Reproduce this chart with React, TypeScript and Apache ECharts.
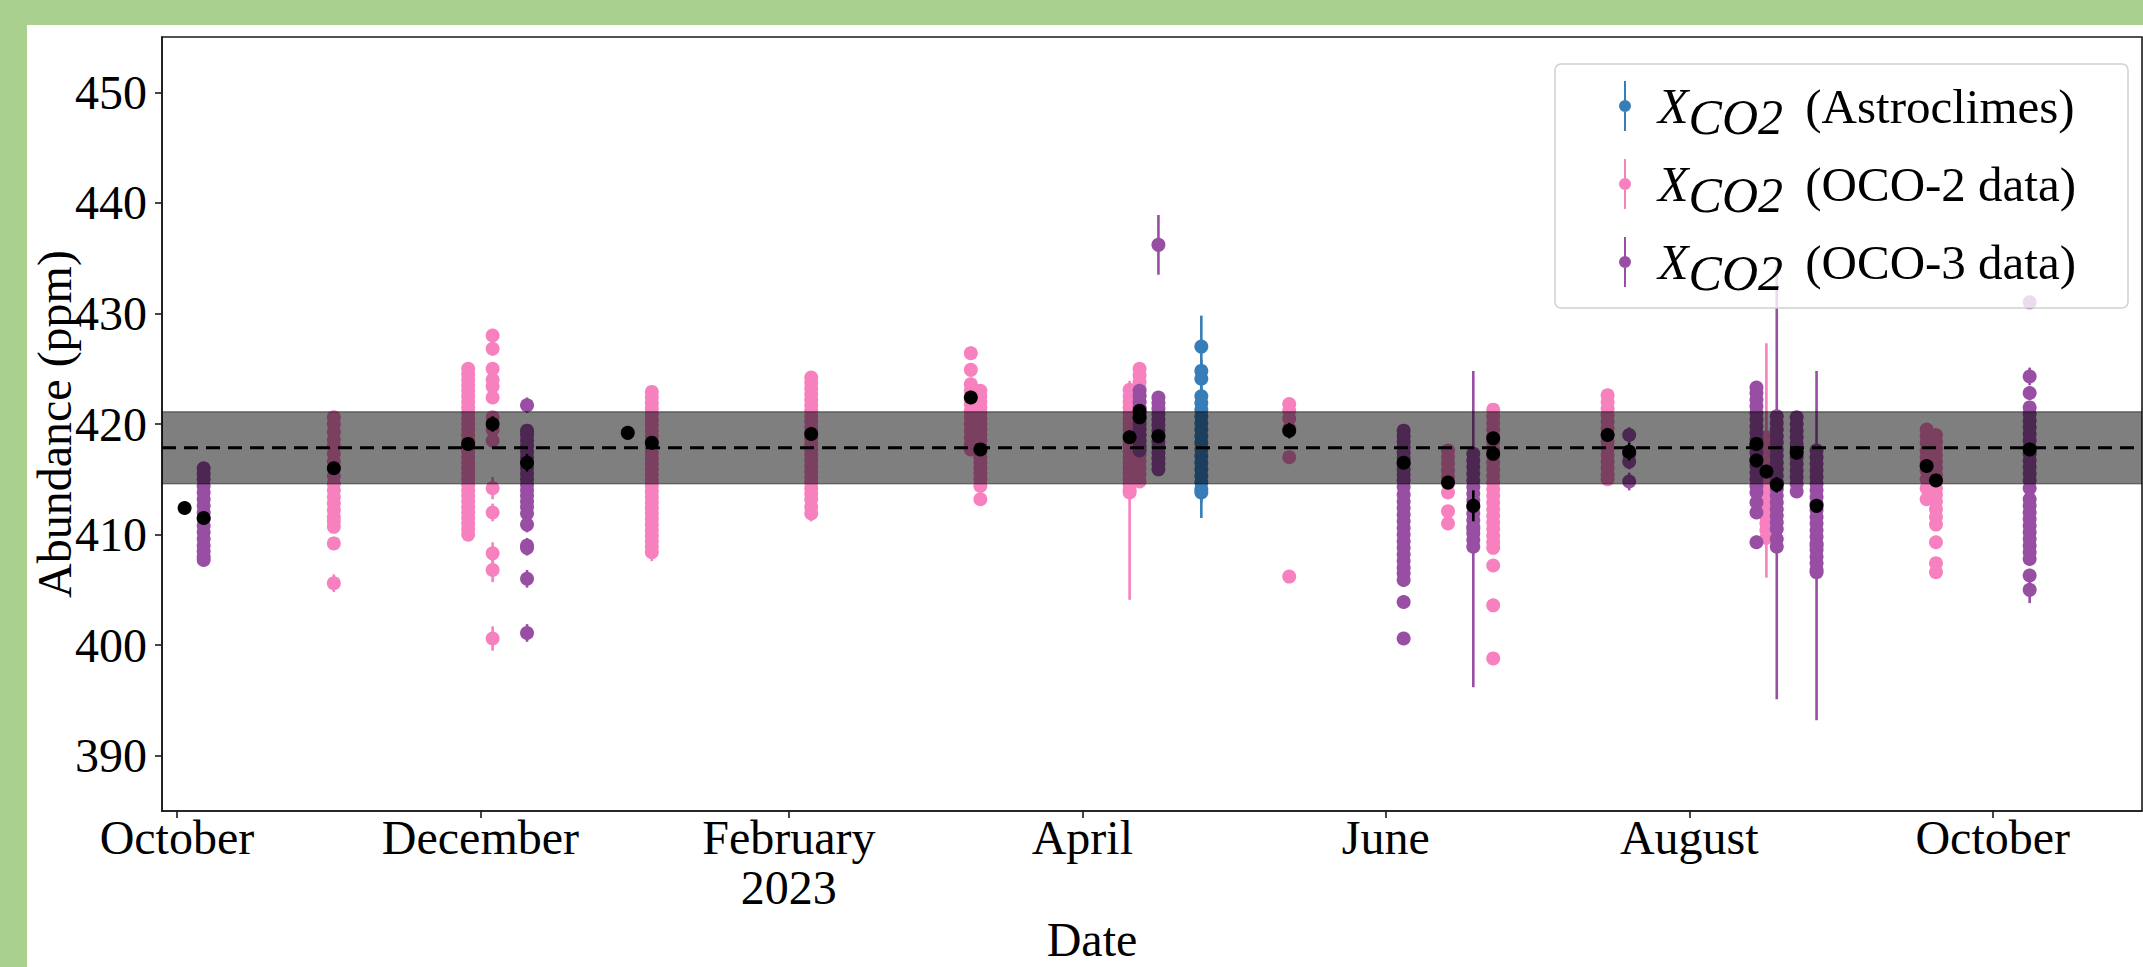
import React, { useEffect, useRef } from 'react';
import * as echarts from 'echarts';

const SERIF = '"Liberation Serif", "Times New Roman", serif';

const yTicks = [390, 400, 410, 420, 430, 440, 450];
const xTickDates = ['2022-10-01T00:00', '2022-12-01T00:00', '2023-02-01T00:00', '2023-04-01T00:00', '2023-06-01T00:00', '2023-08-01T00:00', '2023-10-01T00:00'];
const xTickLabels = ['October', 'December', 'February\n2023', 'April', 'June', 'August', 'October'];
const xMin = '2022-09-28T00:00';
const xMax = '2023-10-31T00:00';
const yMin = 385;
const yMax = 455;

const meanValue = 417.85;
const bandLow = 414.6;
const bandHigh = 421.1;

const seriesNames = ['Astroclimes', 'OCO-2 data', 'OCO-3 data'];
const colors = { astro: '#377eb8', oco2: '#f781bf', oco3: '#984ea3', mean: '#000000' };

type Pt = [number, number];
type Group = { date: string; pts: Pt[] };

// ---------- Astroclimes ----------
const astroApr24: Group = { date: '2023-04-24T22:00', pts: [[427.0, 2.8], [424.8, 1.0], [424.1, 1.0], [422.5, 0.9], [421.9, 0.9], [421.3, 0.9], [420.7, 0.9], [420.1, 0.9], [419.5, 0.9], [418.9, 0.9], [418.3, 0.9], [417.7, 0.9], [417.1, 0.9], [416.5, 0.9], [415.9, 0.9], [415.3, 0.9], [414.7, 0.9], [414.1, 2.6], [413.8, 0.9]] };

// ---------- OCO-2 ----------
const oco2Nov01: Group = { date: '2022-11-01T13:00', pts: [[420.6, 0.5], [420.0, 0.5], [419.3, 0.5], [418.6, 0.5], [418.0, 0.5], [417.3, 0.5], [416.6, 0.5], [416.0, 0.5], [415.3, 0.5], [414.6, 0.5], [414.0, 0.5], [413.4, 0.5], [412.8, 0.5], [412.2, 0.5], [411.6, 0.5], [411.2, 0.5], [410.7, 0.5], [409.2, 0.6], [405.6, 0.8]] };
const oco2Nov28: Group = { date: '2022-11-28T13:00', pts: [[425.0, 0.5], [424.5, 0.5], [424.0, 0.5], [423.5, 0.5], [423.0, 0.5], [422.5, 0.5], [422.0, 0.5], [421.5, 0.5], [421.0, 0.5], [420.5, 0.5], [420.0, 0.5], [419.5, 0.5], [419.0, 0.5], [418.5, 0.5], [418.0, 0.5], [417.5, 0.5], [417.0, 0.5], [416.5, 0.5], [416.0, 0.5], [415.5, 0.5], [415.0, 0.5], [414.5, 0.5], [414.0, 0.5], [413.5, 0.5], [413.0, 0.5], [412.5, 0.5], [412.0, 0.5], [411.5, 0.5], [411.0, 0.5], [410.5, 0.5], [410.0, 0.6]] };
const oco2Dec03: Group = { date: '2022-12-03T11:00', pts: [[428.0, 0.6], [426.8, 0.6], [425.0, 0.6], [424.0, 0.6], [423.4, 0.6], [422.4, 0.6], [420.6, 0.6], [419.5, 0.6], [418.5, 0.6], [414.2, 1.0], [412.0, 0.8], [408.3, 1.0], [406.8, 1.1], [400.6, 1.1]] };
const oco2Jan04: Group = { date: '2023-01-04T11:00', pts: [[422.9, 0.5], [422.4, 0.5], [421.9, 0.5], [421.4, 0.5], [420.9, 0.5], [420.4, 0.5], [419.9, 0.5], [419.4, 0.5], [418.9, 0.5], [418.4, 0.5], [417.9, 0.5], [417.4, 0.5], [416.9, 0.5], [416.4, 0.5], [415.9, 0.5], [415.4, 0.5], [414.9, 0.5], [414.4, 0.5], [413.9, 0.5], [413.4, 0.5], [412.9, 0.5], [412.4, 0.5], [411.9, 0.5], [411.4, 0.5], [410.9, 0.5], [410.4, 0.5], [409.9, 0.5], [409.4, 0.5], [408.9, 0.5], [408.4, 0.8]] };
const oco2Feb05: Group = { date: '2023-02-05T12:00', pts: [[424.2, 0.5], [423.7, 0.5], [423.2, 0.5], [422.7, 0.5], [422.2, 0.5], [421.7, 0.5], [421.2, 0.5], [420.7, 0.5], [420.2, 0.5], [419.7, 0.5], [419.2, 0.5], [418.7, 0.5], [418.2, 0.5], [417.7, 0.5], [417.2, 0.5], [416.7, 0.5], [416.2, 0.5], [415.7, 0.5], [415.2, 0.5], [414.7, 0.5], [414.2, 0.5], [413.7, 0.5], [413.2, 0.5], [412.5, 0.6], [411.9, 0.7]] };
const oco2Mar09: Group = { date: '2023-03-09T14:00', pts: [[426.4, 0.6], [424.9, 0.6], [423.6, 0.6], [423.0, 0.6], [422.4, 0.6], [421.8, 0.6], [421.2, 0.6], [420.6, 0.6], [420.0, 0.6], [419.4, 0.6], [418.8, 0.6], [418.2, 0.6], [417.7, 0.6]] };
const oco2Mar11: Group = { date: '2023-03-11T12:00', pts: [[423.0, 0.5], [422.5, 0.5], [422.0, 0.5], [421.5, 0.5], [421.0, 0.5], [420.5, 0.5], [420.0, 0.5], [419.5, 0.5], [419.0, 0.5], [418.5, 0.5], [418.0, 0.5], [417.5, 0.5], [417.0, 0.5], [416.5, 0.5], [416.0, 0.5], [415.5, 0.5], [415.0, 0.5], [414.4, 0.5], [413.2, 0.6]] };
const oco2Apr10: Group = { date: '2023-04-10T12:00', pts: [[423.1, 0.6], [422.5, 0.6], [422.0, 0.6], [421.5, 0.6], [421.0, 0.6], [420.5, 0.6], [420.0, 0.6], [419.5, 0.6], [419.0, 0.6], [418.5, 0.6], [418.0, 0.6], [417.5, 0.6], [417.0, 0.6], [416.5, 0.6], [416.0, 0.6], [415.5, 0.6], [415.0, 0.6], [414.5, 0.6], [414.0, 9.9], [413.8, 0.6]] };
const oco2Apr12: Group = { date: '2023-04-12T12:00', pts: [[425.0, 0.5], [424.4, 0.5], [423.8, 0.5], [423.2, 0.5], [422.6, 0.5], [422.0, 0.5], [421.4, 0.5], [420.8, 0.5], [420.2, 0.5], [419.6, 0.5], [419.0, 0.5], [418.4, 0.5], [417.8, 0.5], [417.2, 0.5], [416.6, 0.5], [416.0, 0.5], [415.4, 0.5], [414.8, 0.5]] };
const oco2May12: Group = { date: '2023-05-12T14:00', pts: [[421.8, 0.5], [421.2, 0.5], [420.5, 0.5], [419.6, 0.5], [417.0, 0.5], [406.2, 0.5]] };
const oco2Jun13: Group = { date: '2023-06-13T12:00', pts: [[417.6, 0.5], [417.0, 0.5], [416.4, 0.5], [415.8, 0.5], [415.2, 0.5], [414.6, 0.5], [413.8, 0.5], [412.1, 0.5], [411.0, 0.5]] };
const oco2Jun22: Group = { date: '2023-06-22T14:00', pts: [[421.3, 0.5], [420.7, 0.5], [420.1, 0.5], [419.5, 0.5], [418.9, 0.5], [418.3, 0.5], [417.7, 0.5], [417.1, 0.5], [416.5, 0.5], [415.9, 0.5], [415.3, 0.5], [414.7, 0.5], [414.1, 0.5], [413.5, 0.5], [412.9, 0.5], [412.3, 0.5], [411.7, 0.5], [411.1, 0.5], [410.5, 0.5], [409.9, 0.5], [409.3, 0.5], [408.8, 0.5], [407.2, 0.5], [403.6, 0.5], [398.8, 0.5]] };
const oco2Jul15: Group = { date: '2023-07-15T14:00', pts: [[422.6, 0.5], [422.0, 0.5], [421.4, 0.5], [420.8, 0.5], [420.2, 0.5], [419.6, 0.5], [419.0, 0.5], [418.4, 0.5], [417.8, 0.5], [417.2, 0.5], [416.6, 0.5], [416.0, 0.5], [415.4, 0.5], [415.0, 0.5]] };
const oco2Aug16: Group = { date: '2023-08-16T12:00', pts: [[418.8, 0.6], [418.2, 0.6], [417.6, 0.6], [417.0, 0.6], [416.7, 10.6], [416.4, 0.6], [415.8, 0.6], [415.2, 0.6], [414.6, 0.6], [414.0, 0.6], [413.4, 0.6], [412.8, 0.6], [412.2, 0.6], [411.6, 0.6], [411.0, 0.6], [410.4, 0.6], [409.7, 0.6]] };
const oco2Sep17: Group = { date: '2023-09-17T17:00', pts: [[419.5, 0.5], [418.9, 0.5], [418.3, 0.5], [417.6, 0.5], [417.0, 0.5], [416.4, 0.5], [415.8, 0.5], [415.0, 0.5], [414.2, 0.5], [413.2, 0.5]] };
const oco2Sep19: Group = { date: '2023-09-19T14:00', pts: [[419.0, 0.5], [418.4, 0.5], [417.8, 0.5], [417.2, 0.5], [416.6, 0.5], [416.0, 0.5], [415.4, 0.5], [414.8, 0.5], [414.2, 0.5], [413.6, 0.5], [413.0, 0.5], [412.3, 0.5], [411.6, 0.5], [410.9, 0.5], [409.3, 0.5], [407.4, 0.5], [406.6, 0.5]] };

// ---------- OCO-3 ----------
const oco3Oct06: Group = { date: '2022-10-06T09:00', pts: [[416.0, 0.4], [415.5, 0.4], [415.0, 0.4], [414.4, 0.4], [413.8, 0.4], [413.2, 0.4], [412.6, 0.4], [412.0, 0.4], [411.4, 0.4], [410.8, 0.4], [410.2, 0.4], [409.6, 0.4], [409.0, 0.4], [408.5, 0.4], [408.0, 0.4], [407.7, 0.4]] };
const oco3Dec10: Group = { date: '2022-12-10T09:00', pts: [[421.7, 0.7], [419.4, 0.6], [419.0, 0.6], [418.5, 0.6], [418.0, 0.6], [417.5, 0.6], [417.0, 0.6], [416.5, 0.6], [416.0, 0.6], [415.5, 0.6], [415.0, 0.6], [414.5, 0.6], [414.0, 0.6], [413.5, 0.6], [413.0, 0.6], [412.5, 0.6], [411.9, 0.6], [410.9, 0.7], [409.0, 0.7], [408.8, 0.7], [406.0, 0.8], [401.1, 0.8]] };
const oco3Apr12: Group = { date: '2023-04-12T12:00', pts: [[423.0, 0.5], [422.5, 0.5], [422.0, 0.5], [421.5, 0.5], [421.0, 0.5], [420.5, 0.5], [420.0, 0.5], [419.5, 0.5], [419.0, 0.5], [418.5, 0.5], [418.0, 0.5], [417.6, 0.5]] };
const oco3Apr16: Group = { date: '2023-04-16T07:00', pts: [[436.2, 2.7], [422.4, 0.5], [421.9, 0.5], [421.4, 0.5], [420.9, 0.5], [420.4, 0.5], [419.9, 0.5], [419.4, 0.5], [418.9, 0.5], [418.4, 0.5], [417.9, 0.5], [417.4, 0.5], [416.9, 0.5], [416.4, 0.5], [415.9, 0.5]] };
const oco3Jun04: Group = { date: '2023-06-04T14:00', pts: [[419.4, 0.5], [418.9, 0.5], [418.4, 0.5], [417.9, 0.5], [417.4, 0.5], [416.9, 0.5], [416.4, 0.5], [415.9, 0.5], [415.4, 0.5], [414.9, 0.5], [414.3, 0.5], [413.6, 0.5], [413.0, 0.5], [412.4, 0.5], [411.8, 0.5], [411.2, 0.5], [410.6, 0.5], [410.0, 0.5], [409.4, 0.5], [408.8, 0.5], [408.2, 0.5], [407.6, 0.5], [407.0, 0.5], [406.5, 0.5], [405.9, 0.6], [403.9, 0.5], [400.6, 0.5]] };
const oco3Jun18: Group = { date: '2023-06-18T14:00', pts: [[417.3, 0.5], [416.7, 0.5], [416.1, 0.5], [415.5, 0.5], [414.9, 0.5], [414.3, 0.5], [413.7, 0.5], [413.1, 0.5], [412.5, 0.5], [411.9, 0.5], [411.3, 0.5], [410.7, 0.5], [410.5, 14.3], [410.1, 0.5], [409.5, 0.5], [408.9, 0.5]] };
const oco3Jul19: Group = { date: '2023-07-19T22:00', pts: [[419.0, 0.7], [417.3, 0.7], [416.6, 0.7], [414.8, 0.8]] };
const oco3Aug14: Group = { date: '2023-08-14T12:00', pts: [[423.3, 0.5], [422.8, 0.5], [422.2, 0.5], [421.6, 0.5], [421.0, 0.5], [420.4, 0.5], [419.8, 0.5], [419.2, 0.5], [418.6, 0.5], [418.0, 0.5], [417.4, 0.5], [416.8, 0.5], [416.2, 0.5], [415.6, 0.5], [415.0, 0.5], [414.4, 0.5], [413.8, 0.5], [412.9, 0.5], [412.0, 0.5], [409.3, 0.6]] };
const oco3Aug18: Group = { date: '2023-08-18T14:00', pts: [[420.7, 0.5], [420.1, 0.5], [419.5, 0.5], [418.9, 0.5], [418.3, 0.5], [417.7, 0.5], [417.1, 0.5], [416.5, 0.5], [415.9, 0.5], [414.7, 19.6], [415.3, 0.5], [414.7, 0.5], [414.1, 0.5], [413.5, 0.5], [412.9, 0.5], [412.3, 0.5], [411.7, 0.5], [411.1, 0.5], [410.5, 0.5], [409.6, 0.5], [408.9, 0.5]] };
const oco3Aug22: Group = { date: '2023-08-22T14:00', pts: [[420.6, 0.5], [420.0, 0.5], [419.4, 0.5], [418.8, 0.5], [418.2, 0.5], [417.6, 0.5], [417.0, 0.5], [416.4, 0.5], [415.8, 0.5], [415.2, 0.5], [414.6, 0.5], [413.9, 0.5]] };
const oco3Aug26: Group = { date: '2023-08-26T14:00', pts: [[417.6, 0.5], [417.0, 0.5], [416.4, 0.5], [415.8, 0.5], [415.2, 0.5], [414.6, 0.5], [414.0, 0.5], [413.4, 0.5], [412.8, 0.5], [412.2, 0.5], [411.6, 0.5], [411.0, 0.5], [410.4, 0.5], [409.8, 0.5], [409.2, 0.5], [409.0, 15.8], [408.6, 0.5], [408.0, 0.5], [407.4, 0.5], [406.8, 0.5], [406.6, 0.5]] };
const oco3Oct08: Group = { date: '2023-10-08T10:00', pts: [[431.0, 0.6], [424.3, 0.8], [422.8, 0.6], [421.5, 0.6], [420.9, 0.5], [420.3, 0.5], [419.7, 0.5], [419.1, 0.5], [418.5, 0.5], [417.9, 0.5], [417.3, 0.5], [416.7, 0.5], [416.1, 0.5], [415.5, 0.5], [414.9, 0.5], [414.2, 0.5], [413.2, 0.5], [412.6, 0.5], [412.0, 0.5], [411.4, 0.5], [410.8, 0.5], [410.2, 0.5], [409.6, 0.5], [409.0, 0.5], [408.4, 0.5], [407.8, 0.5], [406.3, 0.6], [405.0, 1.2]] };

// ---------- group means ----------
const meanDates = ['2022-10-02T13:00', '2022-10-06T09:00', '2022-11-01T13:00', '2022-11-28T13:00', '2022-12-03T11:00', '2022-12-10T09:00', '2022-12-30T15:00', '2023-01-04T11:00', '2023-02-05T12:00', '2023-03-09T14:00', '2023-03-11T12:00', '2023-04-10T12:00', '2023-04-12T12:00', '2023-04-12T12:00', '2023-04-16T07:00', '2023-05-12T14:00', '2023-06-04T14:00', '2023-06-13T12:00', '2023-06-18T14:00', '2023-06-22T14:00', '2023-06-22T14:00', '2023-07-15T14:00', '2023-07-19T22:00', '2023-08-14T12:00', '2023-08-14T12:00', '2023-08-16T12:00', '2023-08-18T14:00', '2023-08-22T14:00', '2023-08-26T14:00', '2023-09-17T17:00', '2023-09-19T14:00', '2023-10-08T10:00'];
const meanValues = [412.4, 411.5, 416.0, 418.2, 420.0, 416.5, 419.2, 418.3, 419.1, 422.4, 417.7, 418.8, 421.2, 420.6, 418.9, 419.4, 416.5, 414.7, 412.6, 418.7, 417.3, 419.0, 417.5, 418.2, 416.7, 415.7, 414.5, 417.4, 412.6, 416.2, 414.9, 417.7];
const meanErrors = [0.3, 0.5, 0.5, 0.4, 0.7, 0.8, 0.6, 0.6, 0.5, 0.6, 0.5, 0.6, 0.5, 0.5, 0.6, 0.7, 0.5, 0.6, 1.4, 0.5, 0.5, 0.5, 0.8, 0.6, 0.6, 0.6, 0.7, 0.6, 0.6, 0.6, 0.6, 0.6];

const astroGroups = [astroApr24];
const oco2Groups = [oco2Nov01, oco2Nov28, oco2Dec03, oco2Jan04, oco2Feb05, oco2Mar09, oco2Mar11, oco2Apr10, oco2Apr12, oco2May12, oco2Jun13, oco2Jun22, oco2Jul15, oco2Aug16, oco2Sep17, oco2Sep19];
const oco3Groups = [oco3Oct06, oco3Dec10, oco3Apr12, oco3Apr16, oco3Jun04, oco3Jun18, oco3Jul19, oco3Aug14, oco3Aug18, oco3Aug22, oco3Aug26, oco3Oct08];

const ts = (s: string) => new Date(s).getTime();
const toData = (groups: Group[]) => groups.flatMap((g) => g.pts.map(([v, e]) => [ts(g.date), v, e]));

const errorBarRenderer = (color: string, size: number) => (params: any, api: any) => {
  const x = api.value(0);
  const y = api.value(1);
  const e = api.value(2);
  const c = api.coord([x, y]);
  const top = api.coord([x, y + e]);
  const bot = api.coord([x, y - e]);
  return {
    type: 'group',
    children: [
      { type: 'line', shape: { x1: c[0], y1: top[1], x2: c[0], y2: bot[1] }, style: { stroke: color, lineWidth: 2.6 } },
      { type: 'circle', shape: { cx: c[0], cy: c[1], r: size / 2 }, style: { fill: color } },
    ],
  };
};

const LEGEND_ICON = 'path://M5.5,0H7.5V50H5.5Z M6.5,19A6,6 0 1,1 6.5,31A6,6 0 1,1 6.5,19Z';

export default function App() {
  const ref = useRef<HTMLDivElement>(null);

  useEffect(() => {
    if (!ref.current) return;
    const chart = echarts.init(ref.current, undefined, { renderer: 'svg' });
    const xTickValues = xTickDates.map(ts);
    const labelFor = (v: number) => {
      const i = xTickValues.indexOf(v);
      return i >= 0 ? xTickLabels[i] : '';
    };
    const axisLineStyle = { color: '#1a1a1a', width: 1.6 };
    const textBase = { fontFamily: SERIF, color: '#000', fontSize: 48 };

    const option: any = {
      animation: false,
      backgroundColor: '#ffffff',
      textStyle: { fontFamily: SERIF },
      grid: {
        left: 135, top: 12, width: 1980, height: 774, containLabel: false, outerBoundsMode: 'none',
        show: true, borderColor: '#1a1a1a', borderWidth: 1.6, backgroundColor: 'transparent',
      },
      xAxis: {
        type: 'value',
        min: ts(xMin),
        max: ts(xMax),
        axisLine: { show: true, lineStyle: axisLineStyle },
        axisTick: { show: true, customValues: xTickValues, length: 7, lineStyle: axisLineStyle },
        axisLabel: { ...textBase, customValues: xTickValues, formatter: (v: number) => labelFor(v), margin: 1, lineHeight: 50, hideOverlap: false },
        splitLine: { show: false },
        name: 'Date',
        nameLocation: 'middle',
        nameGap: 107,
        nameMoveOverlap: false,
        nameTextStyle: { ...textBase, lineHeight: 42, padding: [0, 120, 0, 0] },
      },
      yAxis: {
        type: 'value',
        min: yMin,
        max: yMax,
        axisLine: { show: true, lineStyle: axisLineStyle },
        axisTick: { show: true, customValues: yTicks, length: 7, lineStyle: axisLineStyle },
        axisLabel: { ...textBase, customValues: yTicks, margin: 15 },
        splitLine: { show: false },
        name: 'Abundance (ppm)',
        nameLocation: 'middle',
        nameGap: 86,
        nameMoveOverlap: false,
        nameTextStyle: { ...textBase, fontSize: 48, lineHeight: 44 },
      },
      legend: {
        data: seriesNames,
        orient: 'vertical',
        left: 1528,
        top: 39,
        z: 10,
        icon: LEGEND_ICON,
        itemWidth: 12,
        itemHeight: 50,
        itemGap: 6,
        padding: [6, 52, 10, 64],
        backgroundColor: 'rgba(255,255,255,0.8)',
        borderColor: '#d0d0d0',
        borderWidth: 1.5,
        borderRadius: 6,
        selectedMode: false,
        formatter: (name: string) => `{x|X}{s|CO2}{t| (${name})}`,
        textStyle: {
          padding: [0, 0, 0, 22],
          rich: {
            x: { fontFamily: SERIF, fontStyle: 'italic', fontSize: 50, lineHeight: 60, color: '#000' },
            s: { fontFamily: SERIF, fontStyle: 'italic', fontSize: 50, lineHeight: 44, padding: [22, 10, 0, 0], color: '#000' },
            t: { fontFamily: SERIF, fontSize: 49, lineHeight: 60, color: '#000' },
          },
        },
      },
      series: [
        {
          type: 'custom', name: seriesNames[0], data: toData(astroGroups), encode: { x: 0, y: 1 },
          renderItem: errorBarRenderer(colors.astro, 14), itemStyle: { color: colors.astro }, z: 2, clip: true,
        },
        {
          type: 'custom', name: seriesNames[1], data: toData(oco2Groups), encode: { x: 0, y: 1 },
          renderItem: errorBarRenderer(colors.oco2, 14), itemStyle: { color: colors.oco2 }, z: 2, clip: true,
        },
        {
          type: 'custom', name: seriesNames[2], data: toData(oco3Groups), encode: { x: 0, y: 1 },
          renderItem: errorBarRenderer(colors.oco3, 14), itemStyle: { color: colors.oco3 }, z: 2, clip: true,
        },
        {
          type: 'custom', name: 'band', data: [[ts(xMin), bandLow, bandHigh]], encode: { x: 0, y: [1, 2] }, z: 3, clip: true,
          renderItem: (params: any, api: any) => {
            const cs = params.coordSys;
            const hi = api.coord([api.value(0), api.value(2)]);
            const lo = api.coord([api.value(0), api.value(1)]);
            return {
              type: 'group',
              children: [
                { type: 'rect', shape: { x: cs.x, y: hi[1], width: cs.width, height: lo[1] - hi[1] }, style: { fill: 'rgba(0,0,0,0.5)' } },
                { type: 'line', shape: { x1: cs.x, y1: hi[1], x2: cs.x + cs.width, y2: hi[1] }, style: { stroke: 'rgba(0,0,0,0.4)', lineWidth: 1.5 } },
                { type: 'line', shape: { x1: cs.x, y1: lo[1], x2: cs.x + cs.width, y2: lo[1] }, style: { stroke: 'rgba(0,0,0,0.4)', lineWidth: 1.5 } },
              ],
            };
          },
        },
        {
          type: 'line', name: 'mean', data: [[ts(xMin), meanValue], [ts(xMax), meanValue]], showSymbol: false, symbol: 'none',
          lineStyle: { color: '#000', width: 3, type: [14, 8] }, z: 4, silent: true,
        },
        {
          type: 'custom', name: 'means', data: meanDates.map((d, i) => [ts(d), meanValues[i], meanErrors[i]]), encode: { x: 0, y: 1 },
          renderItem: errorBarRenderer(colors.mean, 14), itemStyle: { color: colors.mean }, z: 5, clip: true,
        },
      ],
    };
    chart.setOption(option);
    return () => chart.dispose();
  }, []);

  return (
    <div style={{ position: 'fixed', left: 0, top: 0, width: 2143, height: 967, background: '#a9d08e', overflow: 'hidden' }}>
      <div ref={ref} style={{ position: 'absolute', left: 27, top: 25, width: 2116, height: 942, background: '#ffffff' }} />
    </div>
  );
}
